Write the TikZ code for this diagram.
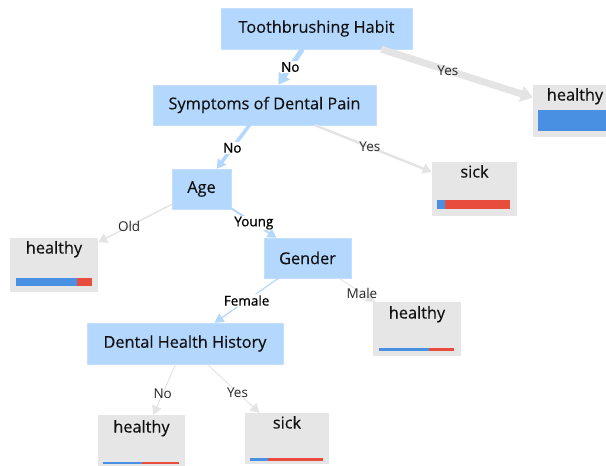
\documentclass[tikz,border=0pt]{standalone}
\usepackage{fontspec}
\setmainfont{Open Sans}
\newfontfamily\semib[FakeBold=0.7]{Open Sans}
\newfontfamily\regf[FakeBold=0.25]{Open Sans}
\usetikzlibrary{arrows.meta,calc}
\definecolor{nodeblue}{HTML}{B3D7FD}
\definecolor{leafgray}{HTML}{E6E6E6}
\definecolor{edgegray}{HTML}{E4E4E4}
\definecolor{barblue}{HTML}{4A90E2}
\definecolor{barred}{HTML}{E74C3C}
\definecolor{txt}{HTML}{111111}
\tikzset{
  split/.style={rectangle, fill=nodeblue, draw=nodeblue!80!white, line width=0.4pt, inner sep=0pt, font=\fontsize{16.3}{18}\selectfont\regf, text=txt},
  leaf/.style={rectangle, fill=leafgray, inner sep=0pt},
  leaftext/.style={anchor=base, inner sep=0pt, font=\fontsize{16.3}{18}\selectfont\regf, text=txt},
  elab/.style={inner sep=1pt, font=\fontsize{13.5}{15}\selectfont, text=black!85},
  elabb/.style={fill=white, inner sep=1pt, font=\fontsize{13.5}{15}\selectfont\semib, text=black},
  blueedge/.style={draw=nodeblue, -{Triangle[length=9pt,width=10pt]}},
  grayedge/.style={draw=edgegray, -{Triangle[length=9pt,width=10pt]}},
}
\begin{document}
\begin{tikzpicture}[x=1pt,y=-1pt]
\useasboundingbox (0,0) rectangle (606,466);
% split nodes
\node[split, minimum width=191pt, minimum height=41pt] (tb) at (316.5,28.5) {Toothbrushing Habit};
\node[split, minimum width=223pt, minimum height=40pt] (sym) at (264.5,105) {Symptoms of Dental Pain};
\node[split, minimum width=59pt, minimum height=40pt] (age) at (201.5,189) {Age};
\node[split, minimum width=87pt, minimum height=40pt] (gen) at (307.5,258) {Gender};
\node[split, minimum width=196pt, minimum height=41pt] (dhh) at (185,343.5) {Dental Health History};
% leaves
\node[leaf, minimum width=84pt, minimum height=52pt] (l1) at (575,111) {};
\node[leaftext] (l1t) at (575,100.5) {healthy};
\fill[barblue] (538,110) rectangle (614,131);

\node[leaf, minimum width=85pt, minimum height=54pt] (l2) at (474.5,189) {};
\node[leaftext] (l2t) at (474.5,177.5) {sick};
\fill[barblue] (437,200) rectangle (445,209);
\fill[barred] (445,200) rectangle (510,209);

\node[leaf, minimum width=88pt, minimum height=54pt] (l3) at (54,265) {};
\node[leaftext] (l3t) at (54,253.5) {healthy};
\fill[barblue] (16,278) rectangle (77,286);
\fill[barred] (77,278) rectangle (92,286);

\node[leaf, minimum width=88pt, minimum height=54pt] (l4) at (417,329) {};
\node[leaftext] (l4t) at (417,318.5) {healthy};
\fill[barblue] (379,348) rectangle (429,351);
\fill[barred] (429,348) rectangle (454,351);

\node[leaf, minimum width=87pt, minimum height=52pt] (l5) at (141.5,441) {};
\node[leaftext] (l5t) at (141.5,432.5) {healthy};
\fill[barblue] (103,461.5) rectangle (142,464);
\fill[barred] (142,461.5) rectangle (179,464);

\node[leaf, minimum width=84pt, minimum height=51pt] (l6) at (287,438.5) {};
\node[leaftext] (l6t) at (287,428.5) {sick};
\fill[barblue] (250,458) rectangle (268,461);
\fill[barred] (268,458) rectangle (323,461);

% edges
\draw[blueedge, line width=5pt, -{Triangle[length=11pt,width=13pt]}] (tb) -- node[elabb, pos=0.5] (e1) {No} (sym);
\draw[grayedge, line width=7pt, -{Triangle[length=12pt,width=16pt]}] (tb) -- node[elab, pos=0.44] (e2) {Yes} (l1);
\draw[blueedge, line width=3.5pt] (sym) -- node[elabb, pos=0.52] (e3) {No} (age);
\draw[grayedge, line width=2.5pt] (sym) -- node[elab, pos=0.47] (e4) {Yes} (l2);
\draw[grayedge, line width=1.5pt] (age) -- node[elab, pos=0.58] (e5) {Old} (l3);
\draw[blueedge, line width=2pt] (age) -- node[elabb, pos=0.5] (e6) {Young} (gen);
\draw[blueedge, line width=1.2pt] (gen) -- node[elabb, pos=0.5] (e7) {Female} (dhh);
\draw[grayedge, line width=1pt] (gen) -- node[elab, pos=0.64] (e8) {Male} (l4);
\draw[grayedge, line width=1pt] (dhh) -- node[elab, pos=0.58] (e9) {No} (l5);
\draw[grayedge, line width=1pt] (dhh) -- node[elab, pos=0.58] (e10) {Yes} (l6);
\end{tikzpicture}
\end{document}
